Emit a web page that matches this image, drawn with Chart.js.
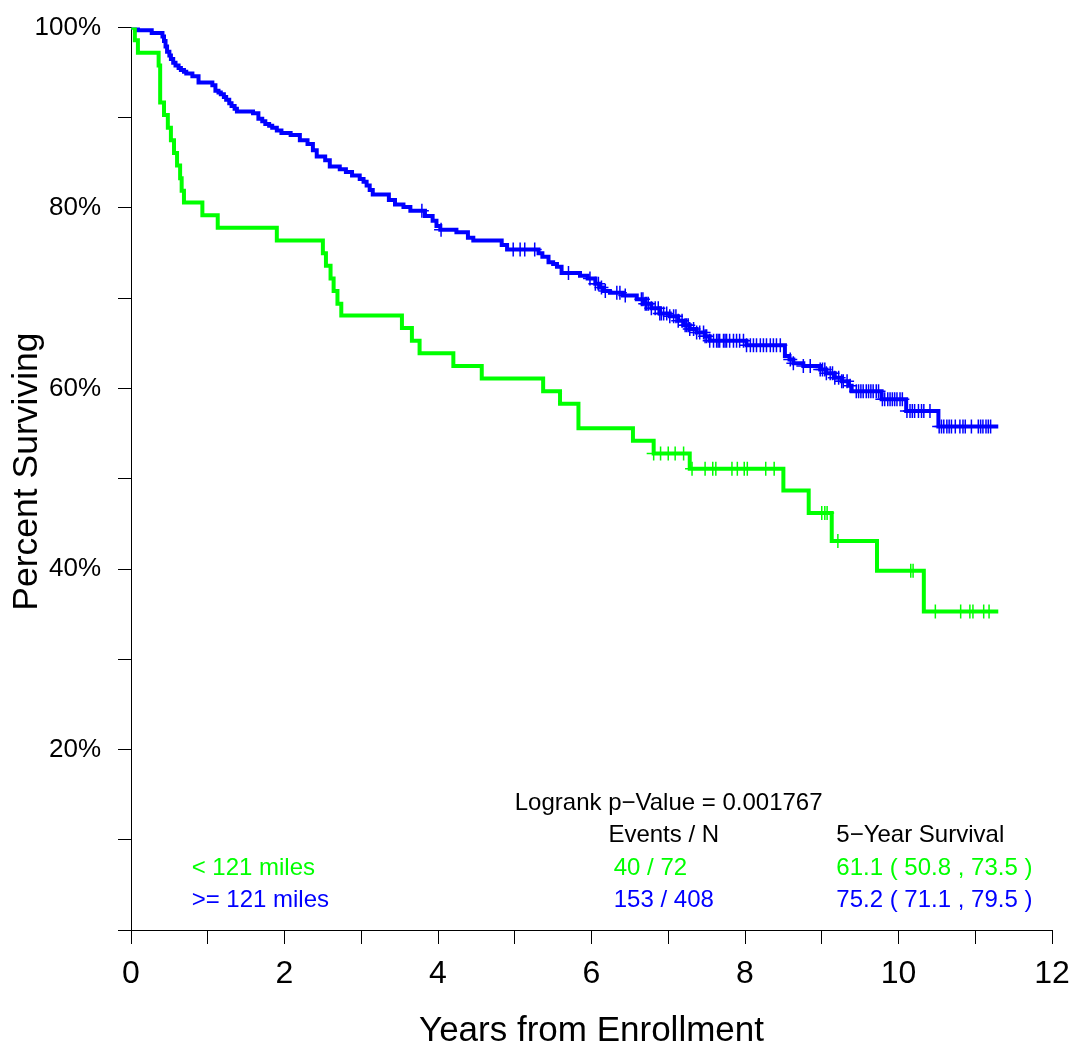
<!DOCTYPE html>
<html>
<head>
<meta charset="utf-8">
<title>Survival by distance</title>
<script src="https://cdn.jsdelivr.net/npm/chart.js@4.4.0/dist/chart.umd.min.js"></script>
<style>
  html, body { margin: 0; padding: 0; background: #fff; }
  #wrap { width: 1078px; height: 1047px; }
</style>
</head>
<body>
<div id="wrap"><canvas id="kmChart" width="1078" height="1047"></canvas></div>
<script>
const GREEN = "#00ff00";
const BLUE = "#0000ff";
const FONT = "'Liberation Sans', Arial, Helvetica, sans-serif";

// < 121 miles: step times (years) and survival (%) after each step
const nearTimes = [0, 0.05, 0.09, 0.36, 0.38, 0.43, 0.48, 0.52, 0.56, 0.60, 0.64, 0.66, 0.69,
  0.93, 1.13, 1.90, 2.50, 2.54, 2.60, 2.64, 2.69, 2.74, 3.53, 3.66, 3.76, 4.20, 4.57,
  5.37, 5.59, 5.83, 6.54, 6.81, 7.28, 8.50, 8.83, 9.13, 9.72, 10.33, 11.30];
const nearSurv = [100, 98.6, 97.2, 95.8, 91.7, 90.3, 88.9, 87.5, 86.1, 84.7, 83.3, 81.9, 80.6,
  79.2, 77.8, 76.4, 75.0, 73.6, 72.2, 70.8, 69.4, 68.1, 66.7, 65.3, 63.9, 62.5, 61.1,
  59.7, 58.3, 55.6, 54.2, 52.8, 51.1, 48.7, 46.2, 43.1, 39.8, 35.3, 35.3];
const nearCensored = [6.81, 6.90, 7.00, 7.09, 7.20, 7.31, 7.48, 7.58, 7.62, 7.83, 7.90, 7.99, 8.03,
  8.27, 8.38, 9.00, 9.04, 9.07, 9.21, 10.16, 10.19, 10.48, 10.81, 10.93, 10.97, 11.11, 11.18];

// >= 121 miles
const farTimes = [0, 0.09, 0.27, 0.41, 0.43, 0.45, 0.47, 0.50, 0.52, 0.55, 0.58, 0.62, 0.65, 0.69,
  0.72, 0.80, 0.88, 1.06, 1.10, 1.14, 1.17, 1.21, 1.24, 1.28, 1.31, 1.35, 1.38, 1.59, 1.66,
  1.71, 1.75, 1.80, 1.84, 1.90, 1.96, 2.08, 2.20, 2.30, 2.37, 2.42, 2.53, 2.59, 2.72, 2.80,
  2.88, 2.98, 3.03, 3.07, 3.11, 3.15, 3.36, 3.44, 3.55, 3.64, 3.83, 3.93, 3.98, 4.03, 4.24,
  4.39, 4.46, 4.83, 4.90, 5.31, 5.36, 5.44, 5.50, 5.55, 5.61, 5.85, 5.95, 6.05, 6.10, 6.15,
  6.24, 6.41, 6.59, 6.68, 6.78, 6.89, 7.02, 7.13, 7.20, 7.28, 7.37, 7.48, 7.54, 8.02, 8.52,
  8.58, 8.63, 8.76, 8.98, 9.06, 9.17, 9.26, 9.35, 9.39, 9.78, 10.10, 10.52, 11.30];
const farSurv = [100, 99.7, 99.4, 99.0, 98.5, 97.9, 97.3, 96.9, 96.5, 96.1, 95.8, 95.5, 95.3, 95.1,
  94.9, 94.6, 93.9, 93.6, 93.0, 92.8, 92.6, 92.3, 92.0, 91.6, 91.3, 91.0, 90.7, 90.5, 89.9,
  89.6, 89.3, 89.1, 88.9, 88.6, 88.3, 88.1, 87.5, 87.1, 86.4, 85.7, 85.3, 84.6, 84.3, 84.0,
  83.6, 83.2, 82.9, 82.5, 82.0, 81.5, 80.9, 80.4, 80.1, 79.7, 79.1, 78.6, 78.0, 77.6, 77.3,
  76.7, 76.4, 75.9, 75.4, 75.0, 74.6, 74.0, 73.8, 73.5, 72.8, 72.5, 72.2, 71.6, 71.2, 70.8,
  70.6, 70.3, 69.9, 69.4, 68.9, 68.3, 68.0, 67.5, 67.0, 66.6, 66.2, 65.8, 65.3, 64.8, 63.6,
  63.2, 62.8, 62.5, 62.1, 61.7, 61.2, 60.8, 60.3, 59.7, 58.8, 57.5, 55.8, 55.8];
const farCensored = [3.79, 4.04, 4.98, 5.07, 5.13, 5.26, 5.70, 5.98, 6.05, 6.09, 6.13, 6.18, 6.33,
  6.37, 6.44, 6.65, 6.67, 6.70, 6.72, 6.74, 6.78, 6.83, 6.87, 6.89, 6.91, 6.94, 6.98, 7.02,
  7.07, 7.10, 7.13, 7.18, 7.22, 7.24, 7.26, 7.28, 7.33, 7.37, 7.41, 7.46, 7.48, 7.50, 7.54,
  7.59, 7.63, 7.65, 7.67, 7.72, 7.74, 7.76, 7.80, 7.85, 7.89, 7.93, 7.98, 8.02, 8.07, 8.11,
  8.15, 8.20, 8.24, 8.28, 8.33, 8.37, 8.41, 8.46, 8.59, 8.63, 8.76, 8.85, 8.98, 9.01, 9.04,
  9.06, 9.11, 9.14, 9.17, 9.22, 9.26, 9.28, 9.33, 9.37, 9.45, 9.48, 9.51, 9.54, 9.58, 9.61,
  9.64, 9.67, 9.71, 9.74, 9.79, 9.82, 9.86, 9.89, 9.92, 9.95, 9.98, 10.02, 10.05, 10.11,
  10.15, 10.18, 10.21, 10.26, 10.30, 10.33, 10.41, 10.53, 10.56, 10.59, 10.63, 10.66, 10.69,
  10.74, 10.80, 10.84, 10.87, 10.95, 11.04, 11.07, 11.10, 11.14, 11.17, 11.20];

// text block under the curves
const summaryLines = [
  { text: "Logrank p\u2212Value = 0.001767", x: 5.0, y: 13.3, color: "#000" },
  { text: "Events / N", x: 6.22, y: 9.7, color: "#000" },
  { text: "5\u2212Year Survival", x: 9.19, y: 9.7, color: "#000" },
  { text: "< 121 miles", x: 0.79, y: 6.1, color: GREEN },
  { text: "40 / 72", x: 6.29, y: 6.1, color: GREEN },
  { text: "61.1 ( 50.8 , 73.5 )", x: 9.19, y: 6.1, color: GREEN },
  { text: ">= 121 miles", x: 0.79, y: 2.55, color: BLUE },
  { text: "153 / 408", x: 6.29, y: 2.55, color: BLUE },
  { text: "75.2 ( 71.1 , 79.5 )", x: 9.19, y: 2.55, color: BLUE }
];

function toPoints(times, surv) {
  return times.map((t, i) => ({ x: t, y: surv[i] }));
}

// survival value of the curve at time t (last step at or before t)
function survivalAt(times, surv, t) {
  let v = surv[0];
  for (let i = 0; i < times.length; i++) {
    if (times[i] <= t) v = surv[i];
  }
  return v;
}

function censorPoints(censored, times, surv) {
  return censored.map(t => ({ x: t, y: survivalAt(times, surv, t) }));
}

const summaryText = {
  id: "summaryText",
  afterDraw(chart) {
    const { ctx, scales } = chart;
    ctx.save();
    ctx.font = "24px " + FONT;
    ctx.textAlign = "left";
    ctx.textBaseline = "alphabetic";
    summaryLines.forEach(line => {
      ctx.fillStyle = line.color;
      ctx.fillText(line.text, scales.x.getPixelForValue(line.x), scales.y.getPixelForValue(line.y));
    });

    // y axis title, sat a little above the middle like the original
    ctx.fillStyle = "#000";
    ctx.font = "35.5px " + FONT;
    ctx.textAlign = "center";
    ctx.textBaseline = "middle";
    ctx.translate(27, scales.y.getPixelForValue(50.8));
    ctx.rotate(-Math.PI / 2);
    ctx.fillText("Percent Surviving", 0, 0);
    ctx.restore();
  }
};

const kmChart = new Chart(document.getElementById("kmChart"), {
  type: "line",
  data: {
    datasets: [
      {
        label: "< 121 miles",
        data: toPoints(nearTimes, nearSurv),
        borderColor: GREEN,
        borderWidth: 4,
        stepped: "before",
        pointRadius: 0,
        fill: false
      },
      {
        label: ">= 121 miles",
        data: toPoints(farTimes, farSurv),
        borderColor: BLUE,
        borderWidth: 4,
        stepped: "before",
        pointRadius: 0,
        fill: false
      },
      {
        type: "scatter",
        label: "censored < 121",
        data: censorPoints(nearCensored, nearTimes, nearSurv),
        pointStyle: "cross",
        pointRadius: 7,
        borderColor: GREEN,
        borderWidth: 1.5,
        showLine: false
      },
      {
        type: "scatter",
        label: "censored >= 121",
        data: censorPoints(farCensored, farTimes, farSurv),
        pointStyle: "cross",
        pointRadius: 7,
        borderColor: BLUE,
        borderWidth: 1.5,
        showLine: false
      }
    ]
  },
  options: {
    responsive: false,
    animation: false,
    layout: { padding: { top: 27.5, right: 26, left: 0, bottom: 0 } },
    plugins: {
      legend: { display: false },
      tooltip: { enabled: false }
    },
    scales: {
      x: {
        type: "linear",
        min: 0,
        max: 12,
        afterFit: scale => {
          scale.height = 117;
          scale.paddingLeft = 0;
          scale.paddingRight = 0;
        },
        ticks: {
          stepSize: 1,
          autoSkip: false,
          maxRotation: 0,
          padding: 11,
          color: "#000",
          font: { family: FONT, size: 32 },
          callback: v => (v % 2 === 0 ? String(v) : "")
        },
        grid: { drawOnChartArea: false, tickLength: 14, tickColor: "#000" },
        border: { display: true, color: "#000", width: 1 },
        title: {
          display: true,
          text: "Years from Enrollment",
          color: "#000",
          font: { family: FONT, size: 35, lineHeight: 0.85 },
          padding: { top: 0, bottom: 1 }
        }
      },
      y: {
        min: 0,
        max: 100,
        afterFit: scale => {
          scale.width = 131;
          scale.paddingTop = 0;
          scale.paddingBottom = 0;
        },
        ticks: {
          stepSize: 10,
          autoSkip: false,
          padding: 17,
          color: "#000",
          font: { family: FONT, size: 26 },
          callback: v => (v > 0 && v % 20 === 0 ? v + "%" : "")
        },
        grid: { drawOnChartArea: false, tickLength: 13, tickColor: "#000" },
        border: { display: true, color: "#000", width: 1 }
      }
    }
  },
  plugins: [summaryText]
});
</script>
</body>
</html>
